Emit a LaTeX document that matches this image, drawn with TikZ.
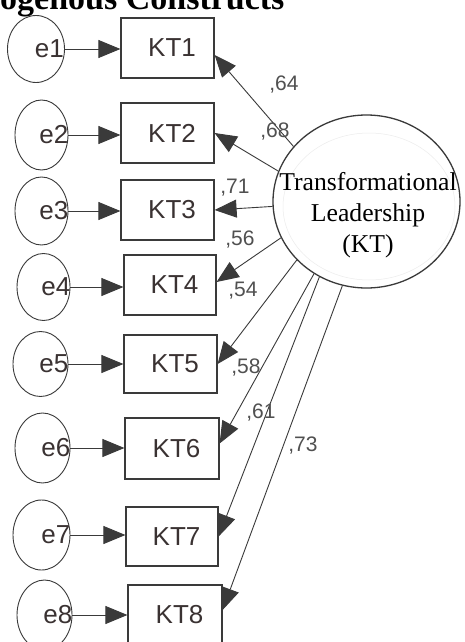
\documentclass[tikz,border=0pt]{standalone}
\usepackage{fontspec}
\setmainfont{Liberation Serif}
\newfontfamily\arialf{Liberation Sans}
\usetikzlibrary{arrows.meta,shapes.geometric}
\definecolor{lnc}{HTML}{3A3A3A}
\definecolor{txc}{HTML}{3A3232}
\definecolor{lbc}{HTML}{505050}
\begin{document}
\begin{tikzpicture}[x=1pt,y=-1pt,
  eshape/.style={ellipse,draw=lnc,line width=0.9pt,inner sep=0pt},
  etext/.style={font=\arialf\fontsize{26}{30}\selectfont,text=txc,inner sep=0pt,anchor=east},
  ibox/.style={rectangle,draw=lnc,line width=1.2pt,inner sep=0pt,font=\arialf\fontsize{26}{30}\selectfont,text=txc},
  conn/.style={draw=lnc,line width=0.9pt,-{Triangle[length=22pt,width=18pt]}},
  lbl/.style={font=\arialf\fontsize{21}{24}\selectfont,text=lbc,inner sep=0pt}]
\useasboundingbox (0,0) rectangle (465,642);
\fill[white] (0,0) rectangle (465,642);

\node[anchor=base west,inner sep=0pt,font=\bfseries\fontsize{34}{40}\selectfont] (title) at (0,9.5) {ogenous Constructs};

% error terms
\node[eshape,minimum width=57pt,minimum height=67pt] (e1) at (36,49) {};
\node[eshape,minimum width=53pt,minimum height=70pt] (e2) at (41.5,135) {};
\node[eshape,minimum width=53pt,minimum height=68pt] (e3) at (41.5,211) {};
\node[eshape,minimum width=53pt,minimum height=67pt] (e4) at (43.5,287) {};
\node[eshape,minimum width=55pt,minimum height=65pt] (e5) at (40.5,364) {};
\node[eshape,minimum width=55pt,minimum height=70pt] (e6) at (42.5,448) {};
\node[eshape,minimum width=57pt,minimum height=70pt] (e7) at (41.5,535) {};
\node[eshape,minimum width=55pt,minimum height=70pt] (e8) at (44.5,615) {};

\node[etext] (t1) at ([xshift=-1pt]e1.east) {e1};
\node[etext] (t2) at ([xshift=0pt]e2.east) {e2};
\node[etext] (t3) at ([xshift=0pt]e3.east) {e3};
\node[etext] (t4) at ([xshift=0pt]e4.east) {e4};
\node[etext] (t5) at ([xshift=0pt]e5.east) {e5};
\node[etext] (t6) at ([xshift=0pt]e6.east) {e6};
\node[etext] (t7) at ([xshift=0pt]e7.east) {e7};
\node[etext] (t8) at ([xshift=0pt]e8.east) {e8};

% indicators
\node[ibox,minimum width=93pt,minimum height=60pt] (KT1) at (167.5,48) {\hspace{9pt}KT1};
\node[ibox,minimum width=93pt,minimum height=60pt] (KT2) at (167.5,133) {\hspace{9pt}KT2};
\node[ibox,minimum width=93pt,minimum height=60pt] (KT3) at (167.5,210) {\hspace{9pt}KT3};
\node[ibox,minimum width=92pt,minimum height=60pt] (KT4) at (170,285) {\hspace{9pt}KT4};
\node[ibox,minimum width=93pt,minimum height=58pt] (KT5) at (170.5,364) {\hspace{9pt}KT5};
\node[ibox,minimum width=94pt,minimum height=61pt] (KT6) at (172,448.5) {\hspace{9pt}KT6};
\node[ibox,minimum width=92pt,minimum height=59pt] (KT7) at (172,536.5) {\hspace{9pt}KT7};
\node[ibox,minimum width=94pt,minimum height=60pt] (KT8) at (175,615) {\hspace{9pt}KT8};

% latent variable
\node[ellipse,draw=lnc,line width=1.3pt,minimum width=187pt,minimum height=173pt,inner sep=0pt] (LV) at (366.5,201.5) {};
\draw[gray!15,line width=0.5pt] (369,206.5) ellipse [x radius=86, y radius=73.5];
\node[font=\fontsize{25.7}{31}\selectfont,align=center,inner sep=0pt] (LVt) at (368,215) {Transformational\\Leadership\\(KT)};

% error arrows
\foreach \i in {1,...,8}{
  \draw[conn] (e\i.east) -- (e\i.east -| KT\i.west);
}

% loadings
\draw[conn] (LV.143.2) -- ([yshift=-7pt]KT1.east);
\draw[conn] (LV.161.4) -- (KT2.east);
\draw[conn] (LV.183.3) -- (KT3.east);
\draw[conn] (LV.203.4) -- ([yshift=3pt]KT4.east);
\draw[conn] (LV.220.1) -- (KT5.east);
\draw[conn] (LV.234) -- ([yshift=5pt]KT6.east);
\draw[conn] (LV.238.7) -- (KT7.east);
\draw[conn] (LV.254) -- ([yshift=5pt]KT8.east);

\node[lbl] (l1) at (284,85) {,64};
\node[lbl] (l2) at (275,132) {,68};
\node[lbl] (l3) at (235,188) {,71};
\node[lbl] (l4) at (240,240) {,56};
\node[lbl] (l5) at (243,291) {,54};
\node[lbl] (l6) at (246,368) {,58};
\node[lbl] (l7) at (261,413) {,61};
\node[lbl] (l8) at (303,446) {,73};
\end{tikzpicture}
\end{document}
